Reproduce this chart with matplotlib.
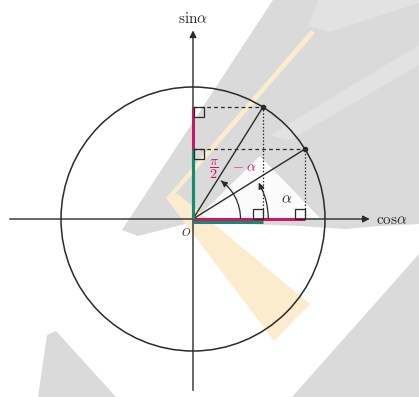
import numpy as np
import matplotlib.pyplot as plt
from matplotlib.patches import Polygon, Arc, Rectangle, Circle

# angle shown in the figure (degrees) and the unit circle
alpha_deg = 32
radius = 1.0
x_label = r'$\mathrm{cos}\alpha$'
y_label = r'$\mathrm{sin}\alpha$'
origin_label = r'$O$'

# pale background shapes of the scan (pixel coords of the 419x397 image)
bg_dark = [
    [(122, 230), (273, 0), (419, 0), (419, 224), (380, 226), (345, 229), (300, 226), (193, 222), (138, 236)],
    [(47, 335), (56, 331), (116, 397), (38, 397)],
    [(419, 254), (419, 397), (292, 397)],
]
bg_light = [
    [(308, 26), (318, 0), (419, 0), (419, 3), (330, 32)],
    [(270, 135), (419, 45), (419, 65), (290, 140)],
]
bg_white = [[(197, 218), (260, 156), (320, 218)]]
bg_yellow = [
    [(311, 30), (315, 33), (170, 200), (166, 198)],
    [(166, 198), (178, 194), (310, 304), (274, 341)],
]

plt.rcParams['mathtext.fontset'] = 'cm'
W, H = 419, 397
ox, oy, r_px = 193, 219, 132

fig = plt.figure(figsize=(W / 100, H / 100), dpi=100)
ax = fig.add_axes([0, 0, 1, 1])
ax.set_xlim(-ox / r_px, (W - ox) / r_px)
ax.set_ylim(-(H - oy) / r_px, oy / r_px)
ax.set_aspect('equal')
ax.axis('off')


def px(pts):
    return [((x - ox) / r_px, (oy - y) / r_px) for x, y in pts]


for shp in bg_dark:
    ax.add_patch(Polygon(px(shp), closed=True, fc='#dadada', ec='none', zorder=0))
for shp in bg_light:
    ax.add_patch(Polygon(px(shp), closed=True, fc='#e2e2e2', ec='none', zorder=0.5))
for shp in bg_white:
    ax.add_patch(Polygon(px(shp), closed=True, fc='#fbfbfb', ec='none', zorder=0.6))
for shp in bg_yellow:
    ax.add_patch(Polygon(px(shp), closed=True, fc='#fbeccd', ec='none', zorder=0.7))

a = np.deg2rad(alpha_deg)
ca, sa = np.cos(a), np.sin(a)
p1 = (sa * radius, ca * radius)   # angle pi/2 - alpha
p2 = (ca * radius, sa * radius)   # angle alpha
ink = '#2a2a2a'
mag = '#c8186a'
grn = '#148c6e'

# axes with arrows
ax.annotate('', xy=(1.36, 0), xytext=(-1.41, 0),
            arrowprops=dict(arrowstyle='-|>', color=ink, lw=1.0, mutation_scale=10), zorder=3)
ax.annotate('', xy=(0, 1.45), xytext=(0, -1.32),
            arrowprops=dict(arrowstyle='-|>', color=ink, lw=1.0, mutation_scale=10), zorder=3)
ax.text(1.39, 0, x_label, fontsize=11, ha='left', va='center', color=ink)
ax.text(0, 1.52, y_label, fontsize=11, ha='center', va='center', color=ink)
ax.text(-0.05, -0.10, origin_label, fontsize=8, ha='center', va='center', color=ink)

# unit circle
ax.add_patch(Circle((0, 0), radius, fill=False, ec=ink, lw=1.1, zorder=3))

# coloured projections
ax.plot([0, 0], [0, ca], color=mag, lw=2.2, zorder=4, solid_capstyle='butt')
ax.plot([0, 0], [0, sa], color=grn, lw=2.2, zorder=5, solid_capstyle='butt')
ax.plot([0, ca], [0, 0], color=mag, lw=2.2, zorder=4, solid_capstyle='butt')
ax.plot([0, sa], [-0.02, -0.02], color=grn, lw=2.2, zorder=5, solid_capstyle='butt')

# radii and projection lines
for px_, py_ in (p1, p2):
    ax.plot([0, px_], [0, py_], color=ink, lw=1.0, zorder=4)
    ax.plot([0, px_], [py_, py_], color=ink, lw=0.9, ls=(0, (3, 2.5)), zorder=4)
    ax.plot([px_, px_], [0, py_], color=ink, lw=0.9, ls=(0, (1.2, 1.5)), zorder=4)
    ax.plot(px_, py_, 'o', color=ink, ms=3, zorder=6)

# right-angle marks
s = 0.075
for rx, ry in ((0.01, ca - s), (0.01, sa - s), (sa - s, 0.0), (ca - s, 0.0)):
    ax.add_patch(Rectangle((rx, ry), s, s, fill=False, ec=ink, lw=0.9, zorder=5))

# angle arcs with arrow heads
for rr, ang in ((0.57, alpha_deg), (0.36, 90 - alpha_deg)):
    ax.add_patch(Arc((0, 0), 2 * rr, 2 * rr, theta1=0, theta2=ang - 4, color=ink, lw=0.9, zorder=5))
    t0, t1 = np.deg2rad(ang - 12), np.deg2rad(ang - 1)
    ax.annotate('', xy=(rr * np.cos(t1), rr * np.sin(t1)),
                xytext=(rr * np.cos(t0), rr * np.sin(t0)),
                arrowprops=dict(arrowstyle='-|>', color=ink, lw=0.8, mutation_scale=9), zorder=6)

ax.text(0.71, 0.15, r'$\alpha$', fontsize=11, ha='center', va='center', color=ink)
ax.text(0.16, 0.38, r'$\dfrac{\pi}{2}$', fontsize=10, ha='center', va='center', color=mag)
ax.text(0.39, 0.39, r'$-\ \alpha$', fontsize=10, ha='center', va='center', color=mag)

fig.savefig('out.png', dpi=100)
